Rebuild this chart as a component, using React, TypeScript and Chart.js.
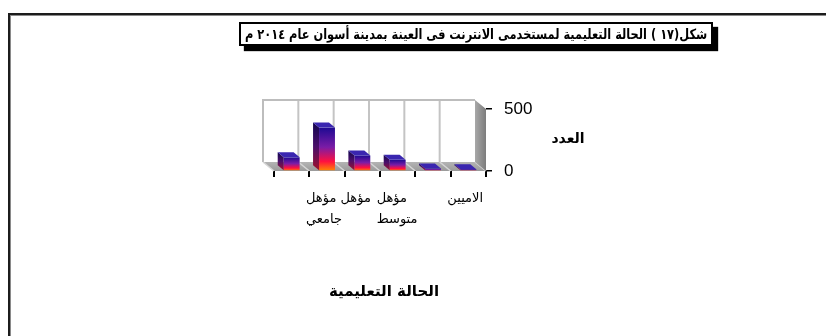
import React, { useEffect, useRef } from "react";
import { Chart, registerables } from "chart.js";

Chart.register(...registerables);

// Chart text
const titleText =
  "شكل(١٧ ) الحالة التعليمية لمستخدمى الانترنت فى العينة بمدينة أسوان عام ٢٠١٤ م";
const xAxisTitle = "الحالة التعليمية";
const yAxisTitle = "العدد";

// Categories (right to left); every other label is left blank on the axis
const categories: string[][] = [
  ["الاميين"],
  [""],
  ["مؤهل", "متوسط"],
  [""],
  ["مؤهل مؤهل", "جامعي"],
  [""],
];

// Number of internet users in each category
const counts = [15, 20, 90, 125, 350, 110];

// Value axis ticks
const yTicks = [0, 500];

// Depth of the 3D box and of each column
const DX = -11;
const DY = -9;
const BDX = -6;
const BDY = -5;

const arabicFont = '"DejaVu Sans", sans-serif';

const box3d = {
  id: "box3d",
  beforeDatasetsDraw(chart: any) {
    const { ctx, chartArea: a, scales } = chart;
    const xs = scales.x;
    const n = categories.length;
    ctx.save();

    // back wall
    ctx.fillStyle = "#ffffff";
    ctx.fillRect(a.left + DX, a.top + DY, a.width, a.height);

    // category separators on the back wall
    ctx.strokeStyle = "#c4c4c4";
    ctx.lineWidth = 2;
    for (let i = 0; i < n - 1; i++) {
      const b = xs.getPixelForValue(i + 0.5) + DX;
      ctx.beginPath();
      ctx.moveTo(b, a.top + DY);
      ctx.lineTo(b, a.bottom + DY);
      ctx.stroke();
    }

    // wall outline
    ctx.strokeStyle = "#bdbdbd";
    ctx.beginPath();
    ctx.moveTo(a.left + DX, a.bottom + DY);
    ctx.lineTo(a.left + DX, a.top + DY);
    ctx.lineTo(a.right + DX, a.top + DY);
    ctx.stroke();

    // floor
    const fg = ctx.createLinearGradient(0, a.bottom + DY, 0, a.bottom);
    fg.addColorStop(0, "#b4b4b4");
    fg.addColorStop(1, "#9a9a9a");
    ctx.fillStyle = fg;
    ctx.beginPath();
    ctx.moveTo(a.left + DX, a.bottom + DY);
    ctx.lineTo(a.right + DX, a.bottom + DY);
    ctx.lineTo(a.right, a.bottom);
    ctx.lineTo(a.left, a.bottom);
    ctx.closePath();
    ctx.fill();

    // separators across the floor
    ctx.strokeStyle = "#d6d6d6";
    ctx.lineWidth = 1.5;
    for (let i = -1; i < n; i++) {
      const b = xs.getPixelForValue(i + 0.5);
      ctx.beginPath();
      ctx.moveTo(b + DX, a.bottom + DY);
      ctx.lineTo(b, a.bottom);
      ctx.stroke();
    }

    // right side wall
    const sg = ctx.createLinearGradient(a.right + DX, 0, a.right, 0);
    sg.addColorStop(0, "#a8a8a8");
    sg.addColorStop(1, "#7c7c7c");
    ctx.fillStyle = sg;
    ctx.beginPath();
    ctx.moveTo(a.right + DX, a.top + DY);
    ctx.lineTo(a.right, a.top);
    ctx.lineTo(a.right, a.bottom);
    ctx.lineTo(a.right + DX, a.bottom + DY);
    ctx.closePath();
    ctx.fill();

    ctx.restore();
  },
  afterDatasetsDraw(chart: any) {
    const { ctx } = chart;
    const meta = chart.getDatasetMeta(0);
    ctx.save();
    meta.data.forEach((bar: any) => {
      const { x, y, base, width } = bar.getProps(["x", "y", "base", "width"], true);
      if (![x, y, base, width].every(Number.isFinite)) return;
      const x1 = x - width / 2;
      const x2 = x + width / 2;

      // left side face
      const lg = ctx.createLinearGradient(0, y + BDY, 0, base + 0.01);
      lg.addColorStop(0, "#12064f");
      lg.addColorStop(0.5, "#4a0f6a");
      lg.addColorStop(1, "#a0102c");
      ctx.fillStyle = lg;
      ctx.beginPath();
      ctx.moveTo(x1, y);
      ctx.lineTo(x1 + BDX, y + BDY);
      ctx.lineTo(x1 + BDX, base + BDY);
      ctx.lineTo(x1, base);
      ctx.closePath();
      ctx.fill();

      // top face
      ctx.fillStyle = "#3a26b0";
      ctx.beginPath();
      ctx.moveTo(x1, y);
      ctx.lineTo(x2, y);
      ctx.lineTo(x2 + BDX, y + BDY);
      ctx.lineTo(x1 + BDX, y + BDY);
      ctx.closePath();
      ctx.fill();
    });
    ctx.restore();
  },
};

export default function App() {
  const canvasRef = useRef<HTMLCanvasElement>(null);
  const titleRef = useRef<HTMLSpanElement>(null);

  useEffect(() => {
    // squeeze the title so it fits inside its frame
    const span = titleRef.current;
    if (span) {
      const w = span.offsetWidth;
      const k = w > 0 ? Math.min(1, 462 / w) : 1;
      span.style.transform = `scaleX(${k})`;
    }

    const canvas = canvasRef.current;
    if (!canvas) return;
    const chart = new Chart(canvas, {
      type: "bar",
      data: {
        labels: categories,
        datasets: [
          {
            data: counts,
            barPercentage: 0.45,
            categoryPercentage: 1,
            borderWidth: 0,
            backgroundColor: (c: any) => {
              const ys = c.chart.scales.y;
              if (!ys || c.type !== "data") return "#4b1aa0";
              const top = ys.getPixelForValue(c.raw);
              const base = ys.getPixelForValue(0);
              if (!Number.isFinite(top) || !Number.isFinite(base)) return "#4b1aa0";
              const g = c.chart.ctx.createLinearGradient(0, top, 0, base + 0.01);
              g.addColorStop(0, "#1e0a92");
              g.addColorStop(0.45, "#7a1ca6");
              g.addColorStop(0.78, "#ff1040");
              g.addColorStop(1, "#ff8a00");
              return g;
            },
          },
        ],
      },
      options: {
        responsive: false,
        animation: false,
        devicePixelRatio: 1,
        layout: { padding: { left: 274, top: 109, right: 0, bottom: 0 } },
        plugins: {
          legend: { display: false },
          tooltip: { enabled: false },
          title: { display: false },
        },
        scales: {
          x: {
            reverse: true,
            offset: true,
            border: { display: false },
            grid: {
              offset: true,
              drawOnChartArea: false,
              drawTicks: true,
              tickLength: 6,
              color: "#000",
              lineWidth: 2,
            },
            ticks: {
              autoSkip: false,
              maxRotation: 0,
              minRotation: 0,
              align: "start",
              labelOffset: -21,
              padding: 11,
              color: "#000",
              font: { family: arabicFont, size: 13, lineHeight: 1.6 },
            },
            afterFit: (s: any) => {
              s.height = 165;
            },
          },
          y: {
            position: "right",
            min: 0,
            max: 500,
            border: { display: false },
            grid: {
              drawOnChartArea: false,
              drawTicks: true,
              tickLength: 6,
              color: "#000",
              lineWidth: 1.5,
            },
            ticks: {
              padding: 12,
              color: "#000",
              font: { family: '"Liberation Sans", Arial, sans-serif', size: 17 },
            },
            afterBuildTicks: (s: any) => {
              s.ticks = yTicks.map((v) => ({ value: v }));
            },
            afterFit: (s: any) => {
              s.width = 340;
            },
          },
        },
      },
      plugins: [box3d],
    });
    return () => chart.destroy();
  }, []);

  return (
    <div
      style={{
        position: "fixed",
        left: 0,
        top: 0,
        width: 826,
        height: 336,
        background: "#fff",
        overflow: "hidden",
      }}
    >
      <div
        style={{
          position: "absolute",
          left: 8,
          top: 13,
          width: 830,
          height: 340,
          borderLeft: "2px solid #1c1c1c",
          borderTop: "2px solid #1c1c1c",
          boxShadow: "inset 1px 1px 0 #8a8a8a",
        }}
      />
      <canvas
        ref={canvasRef}
        width={826}
        height={336}
        style={{ position: "absolute", left: 0, top: 0, width: 826, height: 336 }}
      />
      <div
        style={{
          position: "absolute",
          left: 239,
          top: 22,
          width: 470,
          height: 20,
          border: "2px solid #000",
          background: "#fff",
          boxShadow: "5px 5px 1px #000",
          display: "flex",
          justifyContent: "center",
          alignItems: "center",
          overflow: "visible",
        }}
      >
        <span
          ref={titleRef}
          dir="rtl"
          style={{
            display: "inline-block",
            flex: "none",
            fontFamily: arabicFont,
            fontWeight: "bold",
            fontSize: 14,
            lineHeight: "20px",
            whiteSpace: "nowrap",
            color: "#000",
            transformOrigin: "center center",
          }}
        >
          {titleText}
        </span>
      </div>
      <div
        dir="rtl"
        style={{
          position: "absolute",
          left: 536,
          top: 129,
          width: 64,
          textAlign: "center",
          fontFamily: arabicFont,
          fontWeight: "bold",
          fontSize: 14,
          lineHeight: "18px",
          color: "#000",
        }}
      >
        {yAxisTitle}
      </div>
      <div
        dir="rtl"
        style={{
          position: "absolute",
          left: 300,
          top: 282,
          width: 168,
          textAlign: "center",
          fontFamily: arabicFont,
          fontWeight: "bold",
          fontSize: 15,
          lineHeight: "18px",
          color: "#000",
        }}
      >
        {xAxisTitle}
      </div>
    </div>
  );
}
